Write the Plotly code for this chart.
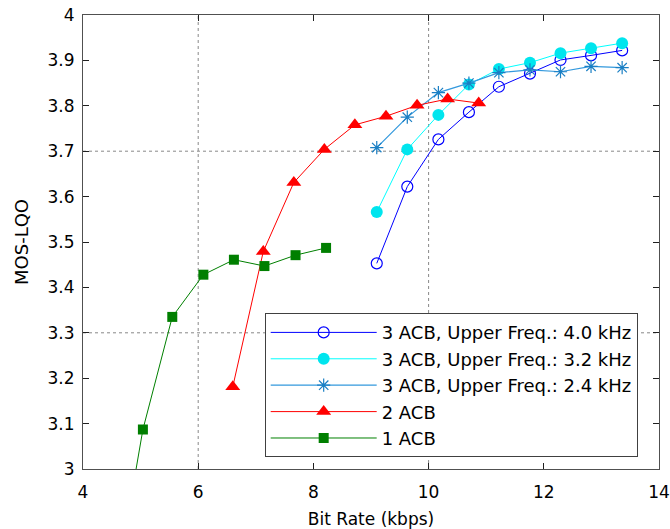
import plotly.graph_objects as go

# ---- data ----
names = ["3 ACB, Upper Freq.: 4.0 kHz", "3 ACB, Upper Freq.: 3.2 kHz",
         "3 ACB, Upper Freq.: 2.4 kHz", "2 ACB", "1 ACB"]

x_acb3 = [9.10, 9.63, 10.17, 10.70, 11.22, 11.76, 12.29, 12.82, 13.36]
y_acb3_40 = [3.453, 3.622, 3.726, 3.786, 3.842, 3.871, 3.901, 3.911, 3.922]
y_acb3_32 = [3.566, 3.704, 3.780, 3.847, 3.881, 3.895, 3.916, 3.927, 3.938]
y_acb3_24 = [3.708, 3.775, 3.829, 3.850, 3.873, 3.879, 3.875, 3.887, 3.884]

x_acb2 = [6.60, 7.13, 7.66, 8.19, 8.72, 9.26, 9.80, 10.33, 10.87]
y_acb2 = [3.181, 3.479, 3.631, 3.704, 3.758, 3.777, 3.801, 3.815, 3.806]

x_acb1 = [4.50, 5.04, 5.55, 6.09, 6.62, 7.15, 7.69, 8.22]
y_acb1 = [2.69, 3.087, 3.335, 3.428, 3.461, 3.447, 3.471, 3.487]

x_range = [4, 14]
y_range = [3, 4]
x_ticks = [4, 6, 8, 10, 12, 14]
y_ticks = [3.0, 3.1, 3.2, 3.3, 3.4, 3.5, 3.6, 3.7, 3.8, 3.9, 4.0]
y_ticklabels = ["3", "3.1", "3.2", "3.3", "3.4", "3.5", "3.6", "3.7", "3.8", "3.9", "4"]
grid_x = [6, 10]
grid_y = [3.3, 3.7]

FONT = "DejaVu Sans"

fig = go.Figure()

fig.add_trace(go.Scatter(
    x=x_acb3, y=y_acb3_40, name=names[0], mode="lines+markers",
    line=dict(color="#0000FF", width=1),
    marker=dict(symbol="circle-open", size=11, color="#0000FF", line=dict(width=1.2)),
    legendgroup="a"))
fig.add_trace(go.Scatter(
    x=x_acb3, y=y_acb3_32, name=names[1], mode="lines+markers",
    line=dict(color="#00FFFF", width=1),
    marker=dict(symbol="circle", size=12, color="#00E5EE"),
    legendgroup="b"))
fig.add_trace(go.Scatter(
    x=x_acb3, y=y_acb3_24, name=names[2], mode="lines+markers",
    line=dict(color="#3399DD", width=1.2),
    marker=dict(symbol="asterisk-open", size=11, color="#1A7FC4", line=dict(width=1.2, color="#1A7FC4")),
    legendgroup="c"))
fig.add_trace(go.Scatter(
    x=x_acb2, y=y_acb2, name=names[3], mode="lines+markers",
    line=dict(color="#FF0000", width=1),
    marker=dict(symbol="triangle-up", size=13, color="#FF0000"),
    legendgroup="d"))
fig.add_trace(go.Scatter(
    x=x_acb1, y=y_acb1, name=names[4], mode="lines+markers",
    line=dict(color="#008000", width=1),
    marker=dict(symbol="square", size=10, color="#007F00"),
    legendgroup="e"))

shapes = []
for gx in grid_x:
    shapes.append(dict(type="line", xref="x", yref="paper", x0=gx, x1=gx, y0=0, y1=1,
                       line=dict(color="#888888", width=1, dash="dot"), layer="below"))
for gy in grid_y:
    shapes.append(dict(type="line", xref="paper", yref="y", x0=0, x1=1, y0=gy, y1=gy,
                       line=dict(color="#888888", width=1, dash="dot"), layer="below"))

axis_common = dict(
    showgrid=False, zeroline=False, showline=True, linecolor="#505050", linewidth=1,
    mirror="ticks", ticks="inside", ticklen=6, tickcolor="#202020",
    tickfont=dict(family=FONT, size=17, color="black"), automargin=False,
)

fig.update_layout(
    width=670, height=529,
    margin=dict(l=83, r=11, t=15, b=60),
    paper_bgcolor="white", plot_bgcolor="white",
    font=dict(family=FONT, color="black"),
    shapes=shapes,
    xaxis=dict(range=x_range, tickvals=x_ticks,
               title=dict(text="Bit Rate (kbps)", font=dict(family=FONT, size=17), standoff=12),
               ticklabelstandoff=8, **axis_common),
    yaxis=dict(range=y_range, tickvals=y_ticks, ticktext=y_ticklabels,
               title=dict(text="MOS-LQO", font=dict(family=FONT, size=18), standoff=14),
               ticklabelstandoff=4, **axis_common),
    showlegend=True,
    legend=dict(x=0.963, y=0.026, xanchor="right", yanchor="bottom",
                bgcolor="white", bordercolor="#404040", borderwidth=1,
                font=dict(family=FONT, size=18, color="black"),
                itemwidth=106, tracegroupgap=0, traceorder="normal"),
)

fig.write_html("out.html")
